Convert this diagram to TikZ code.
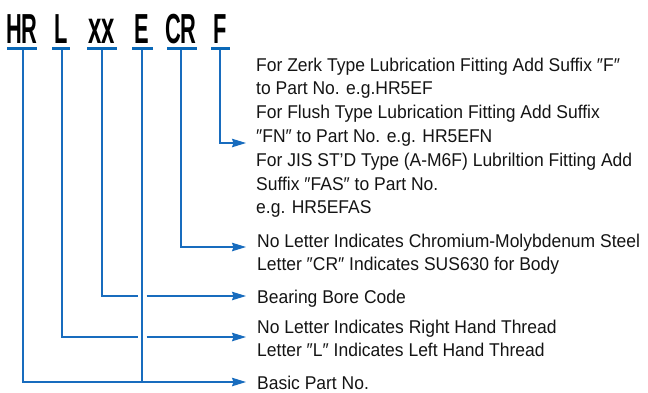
\documentclass[tikz,border=0pt]{standalone}
\usepackage{fontspec}
\setmainfont{Liberation Sans}[FakeStretch=0.945]
\newfontfamily\codefont{Liberation Sans Bold}[FakeStretch=0.52]
\usetikzlibrary{arrows.meta}
\definecolor{lineblue}{RGB}{24,108,190}
\definecolor{barblue}{RGB}{10,104,183}
\definecolor{txt}{RGB}{20,20,20}
\begin{document}
\begin{tikzpicture}[x=1pt,y=-1pt,
  code/.style={anchor=base,inner sep=0pt,font=\codefont\fontsize{42}{42}\selectfont,text=black},
  bar/.style={draw=barblue,line width=3pt},
  conn/.style={draw=lineblue,line width=1.3pt},
  arr/.style={conn,-{Stealth[length=14pt,width=8.5pt,inset=1.5pt]}},
  desc/.style={anchor=base west,inner sep=0pt,text=txt,font=\fontsize{18.5}{23.8}\selectfont}]
\useasboundingbox (0,0) rectangle (648,392);
% codes
\node[code] (hr) at (22,43) {HR};
\node[code] (l)  at (61,43) {L};
\node[code,font=\codefont\fontsize{46}{46}\selectfont] (xx) at (102,43) {xx};
\node[code] (e)  at (142,43) {E};
\node[code] (cr) at (181,43) {CR};
\node[code] (f)  at (220,43) {F};
% underline bars
\draw[bar] (7,48.5) -- (37,48.5);
\draw[bar] (52,48.5) -- (70,48.5);
\draw[bar] (87,48.5) -- (117,48.5);
\draw[bar] (132,48.5) -- (153,48.5);
\draw[bar] (167,48.5) -- (197,48.5);
\draw[bar] (211,48.5) -- (230,48.5);
% start points
\coordinate (hrs) at (23,50);
\coordinate (ls)  at (62,50);
\coordinate (xxs) at (102,50);
\coordinate (es)  at (142,50);
\coordinate (crs) at (181,50);
\coordinate (fs)  at (220,50);
% descriptions
\node[desc] (fd) at (256,71) {\begin{tabular}[t]{@{}l@{}}For Zerk Type Lubrication Fitting Add Suffix ″F″\\
to Part No. e.g.HR5EF\\
For Flush Type Lubrication Fitting Add Suffix\\
″FN″ to Part No. e.g. HR5EFN\\
For JIS ST'D Type (A-M6F) Lubriltion Fitting Add\\
Suffix ″FAS″ to Part No.\\
e.g. HR5EFAS\end{tabular}};
\node[desc] (crd) at (257,247) {\begin{tabular}[t]{@{}l@{}}No Letter Indicates Chromium-Molybdenum Steel\\
Letter ″CR″ Indicates SUS630 for Body\end{tabular}};
\node[desc] (xxd) at (257,303) {Bearing Bore Code};
\node[desc] (ld) at (257,333) {\begin{tabular}[t]{@{}l@{}}No Letter Indicates Right Hand Thread\\
Letter ″L″ Indicates Left Hand Thread\end{tabular}};
\node[desc] (hrd) at (257,389) {Basic Part No.};
% arrow ends
\coordinate (fe)  at (246,143);
\coordinate (cre) at (246,247);
\coordinate (xxe) at (246,296);
\coordinate (le)  at (246,337);
\coordinate (hre) at (246,382);
% gaps around E vertical
\coordinate (xxg1) at (137.5,296);
\coordinate (xxg2) at (146.5,296);
\coordinate (lg1) at (137.5,337);
\coordinate (lg2) at (146.5,337);
% connectors
\draw[arr] (fs) |- (fe);
\draw[arr] (crs) |- (cre);
\draw[conn] (xxs) |- (xxg1);
\draw[arr] (xxg2) -- (xxe);
\draw[conn] (ls) |- (lg1);
\draw[arr] (lg2) -- (le);
\draw[arr] (hrs) |- (hre);
\draw[conn] (es) -- (es |- hre);
\end{tikzpicture}
\end{document}
